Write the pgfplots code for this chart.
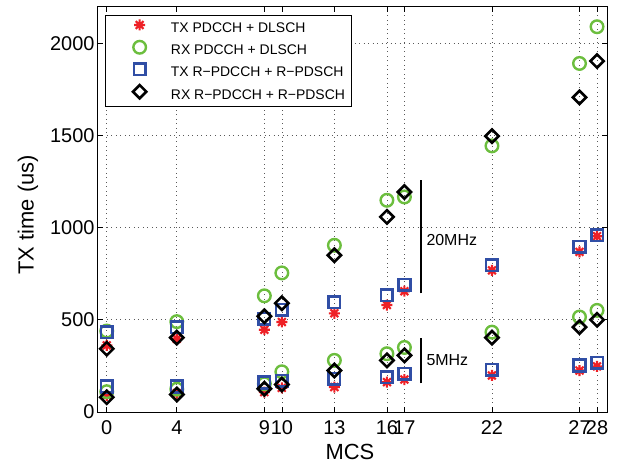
\documentclass[border=0pt]{standalone}
\usepackage{pgfplots}
\pgfplotsset{compat=1.18}
\usepackage{fontspec}
\setmainfont{Liberation Sans}
\definecolor{mred}{RGB}{238,32,38}
\definecolor{mgreen}{RGB}{108,190,62}
\definecolor{mblue}{RGB}{48,78,165}
\pgfdeclareplotmark{mstar}{%
  \pgfpathmoveto{\pgfqpoint{-\pgfplotmarksize}{0pt}}\pgfpathlineto{\pgfqpoint{\pgfplotmarksize}{0pt}}%
  \pgfpathmoveto{\pgfqpoint{0pt}{-\pgfplotmarksize}}\pgfpathlineto{\pgfqpoint{0pt}{\pgfplotmarksize}}%
  \pgfpathmoveto{\pgfqpoint{-.707\pgfplotmarksize}{-.707\pgfplotmarksize}}\pgfpathlineto{\pgfqpoint{.707\pgfplotmarksize}{.707\pgfplotmarksize}}%
  \pgfpathmoveto{\pgfqpoint{-.707\pgfplotmarksize}{.707\pgfplotmarksize}}\pgfpathlineto{\pgfqpoint{.707\pgfplotmarksize}{-.707\pgfplotmarksize}}%
  \pgfusepathqstroke}
\begin{document}
\begin{tikzpicture}
\begin{axis}[
  scale only axis, width=509bp, height=405bp,
  xmin=-0.5, xmax=28.57, ymin=0, ymax=2196,
  xtick={0,4,9,10,13,16,17,22,27,28},
  ytick={0,500,1000,1500,2000},
  grid=major,
  major grid style={black!65, line width=0.7bp, dash pattern=on 0.9bp off 3.6bp},
  tick align=inside,
  major tick length=5bp,
  axis line style={line width=1bp},
  tick style={line width=0.7bp, black},
  /pgf/number format/assume math mode=true,
  /pgf/number format/1000 sep={},
  ticklabel style={font=\fontsize{20}{20}\selectfont},
  xticklabel style={yshift=-5bp},
  xlabel={MCS}, ylabel={TX time (us)},
  label style={font=\fontsize{22}{22}\selectfont},
  xlabel style={at={(axis description cs:0.495,-0.099)}, anchor=center},
  ylabel style={at={(axis description cs:-0.1375,0.487)}, anchor=center},
  legend style={at={(0.0138,0.980)}, anchor=north west, draw=black, line width=0.7bp,
    font=\fontsize{14}{14}\selectfont, inner xsep=6bp, inner ysep=4bp,
    column sep=0bp, row sep=5.5bp,
    nodes={inner sep=0pt, text height=10bp, text depth=3bp}},
  legend cell align=left,
  legend image code/.code={\path (0bp,0bp) (57bp,0bp); \draw[#1] plot coordinates {(27bp,4bp)};},
]
\addplot[only marks, mark=mstar, color=mred, mark size=5.5bp, line width=2.1bp]
  coordinates {(0,361) (4,397) (9,446) (10,488) (13,535) (16,580) (17,655) (22,768) (27,868) (28,953)
               (0,90) (4,102) (9,108) (10,131) (13,135) (16,162) (17,176) (22,198) (27,225) (28,247)};
\addlegendentry{TX PDCCH + DLSCH}
\addplot[only marks, mark=o, color=mgreen, mark size=6.3bp, line width=2.4bp]
  coordinates {(0,439) (4,490) (9,630) (10,754) (13,904) (16,1148) (17,1166) (22,1443) (27,1890) (28,2089)
               (0,110) (4,124) (9,153) (10,218) (13,280) (16,316) (17,350) (22,433) (27,515) (28,551)};
\addlegendentry{RX PDCCH + DLSCH}
\addplot[only marks, mark=square, color=mblue, mark size=5.8bp, line width=2.6bp]
  coordinates {(0,433) (4,460) (9,506) (10,555) (13,596) (16,633) (17,690) (22,795) (27,895) (28,958)
               (0,138) (4,138) (9,160) (10,170) (13,180) (16,189) (17,207) (22,229) (27,252) (28,267)};
\addlegendentry{TX R\textminus PDCCH + R\textminus PDSCH}
\addplot[only marks, mark=square, mark options={rotate=45}, color=black, mark size=4.7bp, line width=2.6bp]
  coordinates {(0,343) (4,403) (9,519) (10,590) (13,850) (16,1058) (17,1193) (22,1496) (27,1706) (28,1903)
               (0,80) (4,95) (9,126) (10,149) (13,225) (16,280) (17,307) (22,403) (27,460) (28,500)};
\addlegendentry{RX R\textminus PDCCH + R\textminus PDSCH}
\draw[line width=2.5bp] (axis cs:17.95,643) -- (axis cs:17.95,1257);
\draw[line width=2.5bp] (axis cs:17.95,155) -- (axis cs:17.95,399);
\node[anchor=west, font=\fontsize{16}{16}\selectfont, inner sep=0pt] at (axis cs:18.25,931) {20MHz};
\node[anchor=west, font=\fontsize{16}{16}\selectfont, inner sep=0pt] at (axis cs:18.25,280) {5MHz};
\end{axis}
\pgfresetboundingbox
\path ([xshift=-98bp,yshift=-51bp]current axis.south west) rectangle ([xshift=16bp,yshift=7bp]current axis.north east);
\end{tikzpicture}
\end{document}
